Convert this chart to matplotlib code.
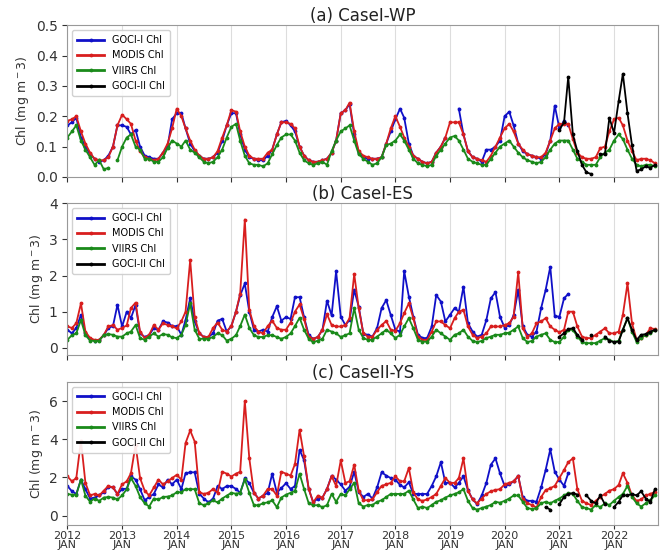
import numpy as np
import pandas as pd
import matplotlib
matplotlib.use('Agg')
import matplotlib.pyplot as plt

nan = np.nan

# monthly means, Jan 2012 .. Oct 2022
months = pd.date_range('2012-01-01', periods=130, freq='MS')
goci2_months = pd.date_range('2020-10-01', periods=25, freq='MS')

titles = ['(a) CaseI-WP', '(b) CaseI-ES', '(c) CaseII-YS']
labels = ['GOCI-I Chl', 'MODIS Chl', 'VIIRS Chl', 'GOCI-II Chl']
year_ticks = list(range(2012, 2023))

# ---- (a) CaseI-WP
wp_goci1 = [0.17, 0.18, 0.195, 0.13, 0.10, 0.075, 0.06, 0.05, 0.055, 0.07, 0.10, 0.17,
            0.17, 0.165, 0.14, 0.155, 0.10, 0.07, 0.065, 0.06, 0.06, 0.08, 0.10, 0.19,
            0.21, 0.21, 0.16, 0.11, 0.085, 0.07, 0.06, 0.06, 0.065, 0.08, 0.12, 0.17,
            0.21, 0.21, 0.14, 0.09, 0.065, 0.06, 0.055, 0.055, 0.07, 0.09, 0.14, 0.18,
            0.185, 0.17, 0.15, 0.10, 0.07, 0.055, 0.05, 0.05, 0.055, 0.06, 0.08, 0.12,
            0.21, 0.22, 0.24, 0.14, 0.08, 0.065, 0.06, 0.06, 0.06, 0.065, 0.11, 0.15,
            0.19, 0.225, 0.195, 0.11, 0.07, 0.06, 0.05, 0.045, 0.05, 0.08, 0.10, 0.13,
            nan, nan, 0.225, 0.14, 0.085, 0.065, 0.06, 0.05, 0.09, 0.09, 0.10, 0.12,
            0.20, 0.215, 0.17, 0.11, 0.085, 0.075, 0.07, 0.065, 0.06, 0.075, 0.12, 0.235,
            0.16, 0.185, 0.17, nan, nan, nan, nan, nan, nan, nan, nan, nan,
            nan, nan, nan, nan, nan, nan, nan, nan, nan, nan]
wp_modis = [0.185, 0.19, 0.20, 0.15, 0.11, 0.08, 0.06, 0.055, 0.055, 0.065, 0.10, 0.17,
            0.205, 0.19, 0.175, 0.12, 0.085, 0.065, 0.06, 0.055, 0.06, 0.08, 0.11, 0.16,
            0.225, 0.20, 0.16, 0.12, 0.09, 0.07, 0.06, 0.06, 0.065, 0.085, 0.13, 0.17,
            0.22, 0.215, 0.15, 0.10, 0.07, 0.06, 0.06, 0.06, 0.08, 0.09, 0.14, 0.18,
            0.18, 0.175, 0.16, 0.10, 0.07, 0.055, 0.05, 0.05, 0.055, 0.06, 0.08, 0.12,
            0.21, 0.22, 0.245, 0.15, 0.085, 0.07, 0.065, 0.06, 0.06, 0.065, 0.11, 0.16,
            0.20, 0.165, 0.13, 0.10, 0.07, 0.06, 0.05, 0.045, 0.05, 0.08, 0.10, 0.13,
            0.18, 0.18, 0.18, 0.14, 0.085, 0.065, 0.06, 0.055, 0.05, 0.07, 0.10, 0.13,
            0.16, 0.175, 0.15, 0.11, 0.09, 0.075, 0.07, 0.065, 0.065, 0.08, 0.12, 0.16,
            0.175, 0.175, 0.175, 0.125, 0.08, 0.065, 0.06, 0.06, 0.065, 0.095, 0.10, 0.15,
            0.19, 0.195, 0.17, 0.12, 0.085, 0.055, 0.06, 0.06, 0.055, 0.045]
wp_viirs = [0.13, 0.15, 0.17, 0.12, 0.09, 0.065, 0.04, 0.055, 0.025, 0.03, nan, 0.055,
            0.10, 0.13, 0.14, 0.10, 0.09, 0.06, 0.06, 0.05, 0.05, 0.065, 0.095, 0.12,
            0.11, 0.10, 0.12, 0.09, 0.08, 0.065, 0.05, 0.045, 0.05, 0.065, 0.09, 0.13,
            0.165, 0.175, 0.12, 0.07, 0.045, 0.04, 0.04, 0.035, 0.045, 0.075, 0.105, 0.13,
            0.14, 0.14, 0.12, 0.08, 0.055, 0.045, 0.04, 0.045, 0.05, 0.04, 0.085, 0.12,
            0.15, 0.16, 0.17, 0.12, 0.075, 0.06, 0.05, 0.04, 0.045, 0.065, 0.105, 0.11,
            0.12, 0.14, 0.12, 0.09, 0.06, 0.045, 0.04, 0.035, 0.04, 0.07, 0.09, 0.11,
            0.13, 0.135, 0.12, 0.09, 0.06, 0.05, 0.045, 0.04, 0.04, 0.06, 0.08, 0.10,
            0.11, 0.12, 0.10, 0.08, 0.065, 0.055, 0.05, 0.045, 0.05, 0.065, 0.09, 0.11,
            0.12, 0.12, 0.12, 0.09, 0.06, 0.05, 0.04, 0.04, 0.04, 0.065, 0.08, 0.09,
            0.12, 0.14, 0.125, 0.09, 0.06, 0.04, 0.035, 0.04, 0.04, 0.035]
wp_goci2 = [nan, nan, nan,
            0.155, 0.18, 0.33, 0.14, 0.085, 0.04, 0.015, 0.01, nan, 0.075, 0.075, 0.195,
            0.145, 0.25, 0.34, 0.21, 0.105, 0.02, 0.025, 0.035, 0.03, 0.04]

# ---- (b) CaseI-ES
es_goci1 = [0.5, 0.4, 0.55, 0.91, 0.4, 0.25, 0.2, 0.22, 0.35, 0.55, 0.6, 1.19,
            0.59, 1.0, 0.82, 1.19, 0.4, 0.3, 0.35, 0.55, 0.5, 0.73, 0.7, 0.6,
            0.6, 0.36, 0.77, 1.37, 0.73, 0.4, 0.3, 0.3, 0.4, 0.75, 0.8, 0.45,
            0.6, 1.0, 1.45, 1.78, 1.0, 0.5, 0.45, 0.5, 0.45, 0.85, 1.15, 0.75,
            0.85, 0.8, 1.4, 1.4, 0.85, 0.35, 0.25, 0.3, 0.5, 1.3, 0.9, 2.12,
            0.86, 0.63, 0.77, 1.6, 1.14, 0.39, 0.36, 0.31, 0.55, 1.1, 1.32, 0.91,
            0.5, 0.45, 2.12, 1.42, 0.86, 0.36, 0.27, 0.27, 0.59, 1.46, 1.28, 0.73,
            0.91, 1.1, 1.0, 1.69, 0.68, 0.45, 0.31, 0.36, 0.77, 1.37, 1.54, 0.86,
            0.56, 0.63, 0.9, 1.6, 0.6, 0.36, 0.31, 0.45, 1.1, 1.6, 2.24, 0.88,
            0.86, 1.37, 1.49, nan, nan, nan, nan, nan, nan, nan, nan, nan,
            nan, nan, nan, nan, nan, nan, nan, nan, nan, nan]
es_modis = [0.59, 0.55, 0.68, 1.23, 0.45, 0.27, 0.22, 0.22, 0.36, 0.59, 0.63, 0.5,
            0.55, 0.62, 1.1, 1.25, 0.45, 0.27, 0.36, 0.63, 0.5, 0.68, 0.63, 0.59,
            0.54, 0.73, 1.0, 2.43, 0.85, 0.4, 0.3, 0.3, 0.55, 0.7, 0.5, 0.45,
            0.6, 1.0, 1.5, 3.55, 1.05, 0.6, 0.45, 0.4, 0.6, 0.75, 0.55, 0.5,
            0.5, 0.7, 1.0, 1.2, 0.8, 0.3, 0.25, 0.3, 0.5, 0.93, 0.63, 0.59,
            0.59, 0.63, 0.82, 2.04, 1.1, 0.4, 0.31, 0.31, 0.5, 0.63, 0.74, 0.5,
            0.47, 0.68, 0.96, 1.23, 0.82, 0.31, 0.22, 0.22, 0.45, 0.73, 0.73, 0.63,
            0.54, 0.82, 1.0, 1.05, 0.59, 0.36, 0.27, 0.31, 0.4, 0.59, 0.59, 0.59,
            0.63, 0.68, 0.86, 2.09, 0.54, 0.31, 0.4, 0.68, 0.73, 0.82, 0.59, 0.5,
            0.43, 0.5, 1.0, 1.0, 0.59, 0.31, 0.27, 0.27, 0.36, 0.45, 0.54, 0.4,
            0.4, 0.45, 0.91, 1.78, 0.68, 0.22, 0.27, 0.36, 0.54, 0.52]
es_viirs = [0.22, 0.35, 0.4, 0.77, 0.35, 0.2, 0.19, 0.19, 0.36, 0.38, 0.36, 0.31,
            0.31, 0.4, 0.45, 0.63, 0.27, 0.22, 0.31, 0.4, 0.31, 0.38, 0.36, 0.29,
            0.27, 0.36, 0.63, 1.23, 0.5, 0.25, 0.25, 0.25, 0.3, 0.4, 0.35, 0.2,
            0.25, 0.35, 0.6, 0.92, 0.55, 0.35, 0.3, 0.3, 0.35, 0.35, 0.3, 0.25,
            0.3, 0.4, 0.6, 0.83, 0.5, 0.25, 0.15, 0.2, 0.25, 0.5, 0.45, 0.4,
            0.3, 0.35, 0.4, 1.1, 0.5, 0.27, 0.22, 0.22, 0.31, 0.4, 0.5, 0.4,
            0.27, 0.36, 0.59, 0.82, 0.54, 0.22, 0.17, 0.17, 0.31, 0.5, 0.4, 0.31,
            0.22, 0.36, 0.4, 0.5, 0.31, 0.19, 0.16, 0.19, 0.27, 0.31, 0.36, 0.36,
            0.4, 0.42, 0.5, 0.59, 0.27, 0.16, 0.19, 0.31, 0.36, 0.4, 0.22, 0.16,
            0.16, 0.31, 0.5, 0.5, 0.31, 0.16, 0.13, 0.13, 0.13, 0.2, 0.27, 0.22,
            0.16, 0.2, 0.5, 0.82, 0.45, 0.16, 0.27, 0.36, 0.4, 0.5]
es_goci2 = [nan, nan, nan,
            0.31, 0.4, 0.52, 0.54, 0.36, 0.22, nan, 0.36, nan, nan, 0.31, 0.19,
            0.16, 0.17, 0.5, 0.82, 0.5, 0.22, 0.36, 0.38, 0.45, 0.5]

# ---- (c) CaseII-YS
ys_goci1 = [1.56, 1.28, 1.14, 1.89, 1.39, 0.9, 0.95, 1.06, 1.23, 1.51, 1.48, 1.14,
            1.39, 1.42, 2.06, 1.89, 1.39, 0.81, 0.98, 1.14, 1.64, 1.48, 1.89, 1.64,
            1.89, 1.39, 2.22, 2.27, 2.27, 1.15, 0.9, 0.7, 0.9, 1.55, 1.4, 1.55,
            1.55, 1.4, 1.2, 1.95, 1.7, 1.2, 0.9, 1.05, 1.2, 2.2, 1.2, 1.45,
            1.7, 1.4, 1.55, 3.45, 2.9, 1.4, 0.7, 0.9, 0.95, 1.4, 2.09, 1.89,
            1.64, 1.31, 1.51, 2.3, 1.25, 0.98, 1.14, 0.9, 1.48, 2.27, 2.1, 1.97,
            1.89, 1.61, 1.48, 1.75, 1.14, 1.14, 1.14, 1.14, 1.56, 2.06, 2.8, 1.72,
            1.72, 1.48, 1.72, 2.06, 1.34, 0.85, 0.61, 1.06, 1.72, 2.67, 3.0, 2.22,
            1.56, 1.64, 1.8, 2.06, 0.98, 0.78, 0.78, 0.73, 1.48, 2.39, 3.47, 2.3,
            1.89, 1.56, 2.22, nan, nan, nan, nan, nan, nan, nan, nan, nan,
            nan, nan, nan, nan, nan, nan, nan, nan, nan, nan]
ys_modis = [2.06, 1.8, 1.97, 3.93, 1.72, 1.06, 1.14, 1.06, 1.31, 1.56, 1.48, 1.14,
            1.64, 1.8, 2.22, 3.71, 1.97, 1.31, 1.06, 1.48, 1.89, 1.64, 1.8, 1.97,
            2.14, 1.89, 3.8, 4.46, 3.88, 1.23, 1.14, 1.2, 1.4, 1.2, 2.3, 2.2,
            2.05, 2.2, 2.3, 6.0, 3.0, 1.2, 0.9, 1.05, 1.4, 1.4, 1.05, 2.3,
            2.2, 2.1, 2.7, 4.5, 3.1, 1.4, 0.7, 1.05, 0.95, 1.4, 2.06, 1.56,
            2.89, 1.72, 1.8, 2.67, 1.31, 0.81, 0.81, 0.85, 1.23, 1.56, 1.64, 1.72,
            2.06, 1.8, 1.8, 2.5, 1.23, 0.85, 0.78, 0.85, 0.98, 1.14, 1.56, 1.97,
            1.72, 1.72, 1.97, 3.0, 1.31, 0.85, 0.65, 0.9, 1.14, 1.28, 1.35, 1.39,
            1.64, 1.72, 1.8, 2.09, 0.9, 0.65, 0.56, 0.43, 0.98, 1.34, 1.44, 1.56,
            1.97, 2.39, 2.8, 3.0, 1.39, 0.78, 0.65, 0.56, 0.78, 0.98, 1.14, 1.31,
            1.39, 1.61, 2.22, 1.72, 1.06, 0.78, 0.85, 1.06, 1.14, 1.25]
ys_viirs = [1.14, 1.1, 1.1, 1.89, 1.05, 0.73, 0.9, 0.78, 0.95, 0.98, 0.95, 0.85,
            1.06, 1.39, 1.97, 1.56, 0.98, 0.65, 0.48, 0.9, 0.85, 0.98, 1.0, 1.06,
            1.23, 1.23, 1.39, 1.39, 1.39, 0.65, 0.55, 0.65, 0.8, 0.7, 0.9, 1.05,
            1.2, 1.15, 1.2, 1.9, 1.2, 0.55, 0.55, 0.65, 0.7, 0.8, 0.45, 0.95,
            1.1, 1.2, 1.3, 2.2, 1.4, 0.65, 0.55, 0.55, 0.45, 0.55, 1.14, 0.73,
            1.14, 1.06, 1.39, 1.72, 0.65, 0.48, 0.56, 0.56, 0.73, 0.81, 0.98, 1.14,
            1.14, 1.14, 1.14, 1.31, 0.85, 0.4, 0.48, 0.4, 0.56, 0.73, 0.81, 0.95,
            1.06, 1.14, 1.23, 1.39, 0.78, 0.4, 0.32, 0.4, 0.48, 0.56, 0.73, 0.68,
            0.78, 0.9, 1.06, 1.06, 0.73, 0.4, 0.35, 0.4, 0.65, 0.73, 0.65, 0.78,
            0.9, 1.06, 1.18, 1.14, 0.78, 0.45, 0.4, 0.32, 0.56, 0.45, 0.65, 0.56,
            0.78, 0.98, 1.14, 1.56, 0.98, 0.65, 0.48, 0.65, 0.81, 1.06]
ys_goci2 = [0.45, 0.32, nan,
            0.61, 0.98, 1.14, 1.18, 1.11, nan, 1.06, 0.78, 0.65, 1.06, 0.6, nan,
            0.45, 0.73, 1.06, 1.06, 1.14, 1.06, 1.28, 0.9, 0.73, 1.39]

panels = [
    (wp_goci1, wp_modis, wp_viirs, wp_goci2, (0, 0.5), np.arange(0, 0.51, 0.1), '%.1f'),
    (es_goci1, es_modis, es_viirs, es_goci2, (-0.2, 4), np.arange(0, 5, 1), '%d'),
    (ys_goci1, ys_modis, ys_viirs, ys_goci2, (-0.5, 7), np.arange(0, 7, 2), '%d'),
]
colors = ['#1010c8', '#d81e1e', '#1a8a1a', 'black']

fig = plt.figure(figsize=(6.6, 5.6), dpi=100)
boxes = [[0.102, 0.684, 0.895, 0.271],
         [0.102, 0.366, 0.895, 0.271],
         [0.102, 0.062, 0.895, 0.256]]

for k, (g1, mo, vi, g2, ylim, yt, fmt) in enumerate(panels):
    ax = fig.add_axes(boxes[k])
    kw = dict(marker='.', markersize=3.5, lw=1.3)
    ax.plot(months, g1, color=colors[0], label=labels[0], **kw)
    ax.plot(months, mo, color=colors[1], label=labels[1], **kw)
    ax.plot(months, vi, color=colors[2], label=labels[2], **kw)
    ax.plot(goci2_months, g2, color=colors[3], label=labels[3], **kw)

    ax.set_xlim(pd.Timestamp('2012-01-01'), pd.Timestamp('2022-10-22'))
    ax.set_ylim(*ylim)
    ax.set_yticks(yt)
    ax.set_yticklabels([fmt % v for v in yt])
    ax.set_xticks([pd.Timestamp(f'{y}-01-01') for y in year_ticks])
    if k == 2:
        ax.set_xticklabels([f'{y}\nJAN' for y in year_ticks], fontsize=8,
                           linespacing=0.95)
        ax.tick_params(axis='x', pad=1, length=3)
    else:
        ax.set_xticklabels([])
    ax.grid(axis='x', color='#dddddd', lw=0.8)
    ax.set_axisbelow(True)
    ax.tick_params(axis='y', labelsize=10, colors='#333333')
    ax.tick_params(axis='x', colors='#333333')
    for s in ax.spines.values():
        s.set_color('#999999')
    ax.set_ylabel(r'Chl (mg m$^-3$)', fontsize=9, color='#333333', labelpad=3)
    ax.set_title(titles[k], fontsize=12, pad=2, color='#222222')
    leg = ax.legend(loc='upper left', fontsize=7, handlelength=2.8,
                    borderpad=0.5, labelspacing=0.55, framealpha=0.9)
    for line in leg.get_lines():
        line.set_linewidth(2.0)

fig.savefig('out.png', dpi=100)
